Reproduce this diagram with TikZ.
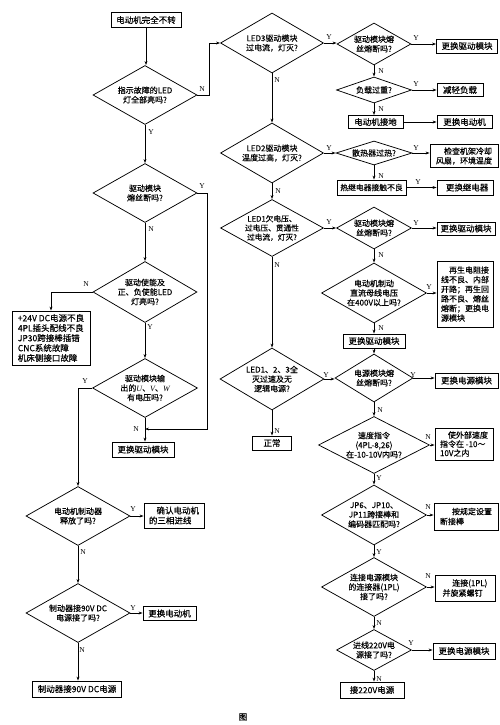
\documentclass[tikz,border=0pt]{standalone}
\usepackage{fontspec}
\setmainfont{Noto Sans CJK SC}[FakeBold=0.3]
\newfontfamily\lat{Liberation Serif}
\usetikzlibrary{shapes.geometric,arrows.meta}
\begin{document}
\begin{tikzpicture}[x=1pt,y=-1pt,line width=0.75pt,
  dia/.style n args={3}{draw, shape=diamond, inner xsep=-5pt, inner ysep=-2pt,
     minimum width=#1pt, minimum height=#2pt, aspect=#3,
     font=\fontsize{8}{9.5}\selectfont, align=center},
  box/.style 2 args={draw, rectangle, inner sep=1pt, minimum width=#1pt, minimum height=#2pt,
     font=\fontsize{8.5}{10}\selectfont, align=center},
  yn/.style={font=\lat\fontsize{7.5}{8}\selectfont, inner sep=0pt},
  arr/.style={-{Stealth[length=4pt,width=2.8pt]}}
]
\useasboundingbox (0,0) rectangle (500,725);

% ---------------- left column ----------------
\node[box={70}{15}] (start) at (146,20) {电动机完全不转};
\node[dia={104}{59}{1.76}] (d1) at (145,95) {指示故障的LED\\灯全部亮吗?};
\node[dia={104}{59}{1.76}] (d2) at (145,193) {驱动模块\\熔丝断吗?};
\node[dia={104}{61}{1.7}] (d3) at (145,292) {驱动使能及\\正、负使能LED\\灯亮吗?};
\node[box={78}{54}, align=left] (b24) at (51,338) {+24V DC电源不良\\4PL插头配线不良\\JP30跨接棒插错\\CNC系统故障\\机床侧接口故障};
\node[dia={105}{59}{1.78}] (d4) at (145,388) {驱动模块输\\出的{\lat\itshape U}、{\lat\itshape V}、{\lat\itshape W}\\有电压吗?};
\node[box={62}{15}] (rep1) at (143,449.5) {更换驱动模块};
\node[dia={104}{59}{1.76}] (d5) at (78,516) {电动机制动器\\释放了吗?};
\node[box={60}{25}, align=left] (conf) at (174,515.5) {\hspace*{0.9em}确认电动机\\的三相进线};
\node[dia={104}{59}{1.76}] (d6) at (78,613) {制动器接90V DC\\电源接了吗?};
\node[box={53}{14}] (rmot) at (169.5,613.5) {更换电动机};
\node[box={89}{16}] (b90) at (77,689) {制动器接90V DC电源};

\coordinate (jc) at (207,429);
\coordinate (jt) at (145,429);

\draw[arr] (start.south) -- (start.south |- d1.north);
\draw[arr] (d1.south) -- (d1.south |- d2.north);
\draw[arr] (d2.east) -| (jc) -- (jt);
\draw[arr] (d2.south) -- (d2.south |- d3.north);
\draw[arr] (d3.west) -| (b24.north);
\draw[arr] (d3.south) -- (d3.south |- d4.north);
\draw[arr] (d4.south) -- (d4.south |- rep1.north);
\draw[arr] (d4.west) -| (d5.north);
\draw[arr] (d5.east) -- (d5.east -| conf.west);
\draw[arr] (d5.south) -- (d5.south |- d6.north);
\draw[arr] (d6.east) -- (d6.east -| rmot.west);
\draw[arr] (d6.south) -- (d6.south |- b90.north);

\node[yn] (l1) at (202,89) {N};
\node[yn] (l2) at (151,132) {Y};
\node[yn] (l3) at (202,186) {Y};
\node[yn] (l4) at (151,229) {N};
\node[yn] (l5) at (86,284) {N};
\node[yn] (l6) at (150,327) {Y};
\node[yn] (l7) at (136,429) {N};
\node[yn] (l8) at (85,381) {Y};
\node[yn] (l9) at (133,509) {Y};
\node[yn] (l10) at (83,552) {N};
\node[yn] (l11) at (133,608) {Y};
\node[yn] (l12) at (82,650) {N};

% ---------------- right part ----------------
\node[dia={103}{60}{1.72}] (LED3) at (272,43) {LED3驱动模块\\过电流，灯灭?};
\node[dia={74}{42}{1.76}] (F1) at (374,44) {驱动模块熔\\丝熔断吗?};
\node[box={61}{14}] (Rb1) at (467,46) {更换驱动模块};
\node[dia={75}{26}{2.88}] (Load) at (374,90) {负载过重?};
\node[box={46}{13}] (Rb2) at (460,90) {减轻负载};
\node[box={55}{13}] (Gnd) at (375.5,122) {电动机接地};
\node[box={55}{13}] (Rb3) at (464.5,122) {更换电动机};

\node[dia={103}{60}{1.72}] (LED2) at (272,153) {LED2驱动模块\\温度过高，灯灭?};
\node[dia={76}{24}{3.17}] (Heat) at (374,153) {散热器过热?};
\node[box={68}{23}, align=left, font=\fontsize{8}{9.5}\selectfont] (Rb4) at (464,156) {\hspace*{1em}检查机架冷却\\风扇，环境温度};
\node[box={69}{15}, font=\fontsize{7.8}{9}\selectfont] (Relay) at (371.5,187.5) {热继电器接触不良};
\node[box={56}{15}] (Rb5) at (465,187.5) {\hspace*{0.5em}更换继电器};

\node[dia={103}{57}{1.8}, font=\fontsize{7.7}{9.2}\selectfont] (LED1) at (272,228) {LED1欠电压、\\过电压、贯通性\\过电流，灯灭?};
\node[dia={75}{42}{1.79}] (F2) at (374,228) {驱动模块熔\\丝熔断吗?};
\node[box={58}{13}] (Rb6) at (466,228.5) {更换驱动模块};
\node[dia={105}{60}{1.75}] (Dc) at (374,293) {电动机制动\\直流母线电压\\在400V以上吗?};
\node[box={56}{66}, align=left, font=\fontsize{8}{9.6}\selectfont] (Rb7) at (465,294) {\hspace*{1em}再生电阻接\\线不良、内部\\开路；再生回\\路不良、熔丝\\熔断；更换电\\源模块};
\node[box={62}{14}] (Rb8) at (374,341) {更换驱动模块};

\node[dia={104}{62}{1.68}] (LED123) at (272,379) {LED1、2、3全\\灭过速及无\\逻辑电源?};
\node[dia={78}{48}{1.63}] (PF) at (374,378) {电源模块熔\\丝熔断吗?};
\node[box={63}{15}] (Rb9) at (466.5,380.5) {更换电源模块};
\node[box={39}{14}] (norm) at (272,443) {正常};
\node[dia={111}{57}{1.95}] (Speed) at (374,445) {速度指令\\(4PL-8,26)\\在-10-10V内吗?};
\node[box={58}{32}, align=left, font=\fontsize{8}{9}\selectfont] (Rb10) at (464,444) {\hspace*{1em}使外部速度\\指令在 -10～\\10V之内};
\node[dia={105}{60}{1.75}] (JP) at (374,515) {JP6、JP10、\\JP11跨接棒和\\编码器匹配吗?};
\node[box={64}{27}, align=left, font=\fontsize{8}{10}\selectfont] (Rb11) at (466,516.5) {\hspace*{1.5em}按规定设置\\断接棒};
\node[dia={105}{59}{1.78}] (Conn) at (374,587) {连接电源模块\\的连接器(1PL)\\接了吗?};
\node[box={60}{26}, align=left, font=\fontsize{8}{10}\selectfont] (Rb12) at (465,588) {\hspace*{1.2em}连接(1PL)\\并旋紧螺钉};
\node[dia={75}{41}{1.83}] (In220) at (374,650) {进线220V电\\源接了吗?};
\node[box={62}{16}] (Rb13) at (464,651) {更换电源模块};
\node[box={64}{16}] (Rb14) at (372,690) {接220V电源};

\draw[arr] (d1.east) -- ++(12,0) |- (LED3.west);
\draw[arr] (LED3.east) -- (LED3.east -| F1.west);
\draw[arr] (F1.east) -- (F1.east -| Rb1.west);
\draw[arr] (F1.south) -- (F1.south |- Load.north);
\draw[arr] (Load.east) -- (Load.east -| Rb2.west);
\draw[arr] (Load.south) -- (Load.south |- Gnd.north);
\draw[arr] (Gnd.east) -- (Gnd.east -| Rb3.west);
\draw[arr] (LED3.south) -- (LED3.south |- LED2.north);
\draw[arr] (LED2.east) -- (LED2.east -| Heat.west);
\draw[arr] (Heat.east) -- (Heat.east -| Rb4.west);
\draw[arr] (Heat.south) -- (Heat.south |- Relay.north);
\draw[arr] (Relay.east) -- (Relay.east -| Rb5.west);
\draw[arr] (LED2.south) -- (LED2.south |- LED1.north);
\draw[arr] (LED1.east) -- (LED1.east -| F2.west);
\draw[arr] (F2.east) -- (F2.east -| Rb6.west);
\draw[arr] (F2.south) -- (F2.south |- Dc.north);
\draw[arr] (Dc.east) -- (Dc.east -| Rb7.west);
\draw[arr] (Dc.south) -- (Dc.south |- Rb8.north);
\draw[arr] (Rb8.south) -- (Rb8.south |- PF.north);
\draw[arr] (LED1.south) -- (LED1.south |- LED123.north);
\draw[arr] (LED123.east) -- (LED123.east -| PF.west);
\draw[arr] (PF.east) -- (PF.east -| Rb9.west);
\draw[arr] (LED123.south) -- (LED123.south |- norm.north);
\draw[arr] (PF.south) -- (PF.south |- Speed.north);
\draw[arr] (Speed.east) -- (Speed.east -| Rb10.west);
\draw[arr] (Speed.south) -- (Speed.south |- JP.north);
\draw[arr] (JP.east) -- (JP.east -| Rb11.west);
\draw[arr] (JP.south) -- (JP.south |- Conn.north);
\draw[arr] (Conn.east) -- (Conn.east -| Rb12.west);
\draw[arr] (Conn.south) -- (Conn.south |- In220.north);
\draw[arr] (In220.east) -- (In220.east -| Rb13.west);
\draw[arr] (In220.south) -- (In220.south |- Rb14.north);

\node[yn] (r1) at (329,37) {Y};
\node[yn] (r2) at (416,38) {Y};
\node[yn] (r3) at (381,71) {N};
\node[yn] (r4) at (416,84) {Y};
\node[yn] (r5) at (381,109) {N};
\node[yn] (r6) at (277,80) {N};
\node[yn] (r7) at (329,148) {Y};
\node[yn] (r8) at (416,148) {Y};
\node[yn] (r9) at (381,176) {N};
\node[yn] (r10) at (418,182) {Y};
\node[yn] (r11) at (278,191) {N};
\node[yn] (r12) at (329,222) {Y};
\node[yn] (r13) at (416,223) {Y};
\node[yn] (r14) at (381,255) {N};
\node[yn] (r15) at (429,287) {Y};
\node[yn] (r16) at (381,328) {N};
\node[yn] (r17) at (277,265) {N};
\node[yn] (r18) at (326,375) {Y};
\node[yn] (r19) at (413,375) {Y};
\node[yn] (r20) at (277,431) {N};
\node[yn] (r21) at (380,410) {N};
\node[yn] (r22) at (428,437) {N};
\node[yn] (r23) at (379,478) {Y};
\node[yn] (r24) at (428,507) {N};
\node[yn] (r25) at (379,552) {Y};
\node[yn] (r26) at (428,576) {N};
\node[yn] (r27) at (379,623) {N};
\node[yn] (r28) at (411,643) {Y};
\node[yn] (r29) at (379,679) {N};

\node[font=\fontsize{8.5}{10}\selectfont] (cap) at (243,717) {图};
\end{tikzpicture}
\end{document}
